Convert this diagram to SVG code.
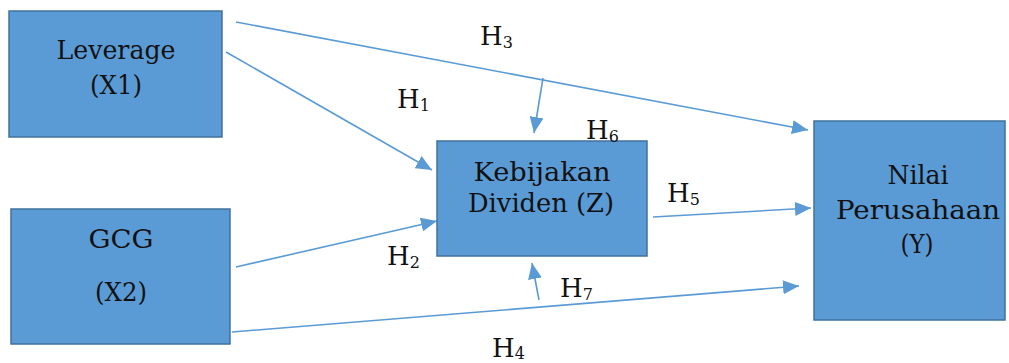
<svg xmlns="http://www.w3.org/2000/svg" width="1009" height="363" viewBox="0 0 1009 363">
  <style>
    .box { fill: #5b9bd5; stroke: #41719c; stroke-width: 1.5; }
    .lbl { font-family: "DejaVu Serif", "Liberation Serif", serif; font-size: 26px; fill: #111; text-anchor: middle; }
    .h { font-family: "DejaVu Serif", "Liberation Serif", serif; font-size: 26px; fill: #111; }
    .sub { font-size: 16px; }
    .edge { stroke: #5b9bd5; stroke-width: 1.6; fill: none; marker-end: url(#arrow); }
  </style>
  <defs>
    <marker id="arrow" markerUnits="userSpaceOnUse" markerWidth="16" markerHeight="14" viewBox="0 0 16 14" refX="16" refY="7" orient="auto">
      <path d="M0,0 L16,7 L0,14 Z" fill="#5b9bd5"/>
    </marker>
  </defs>

  <rect width="1009" height="363" fill="#ffffff"/>

  <g id="connectors">
    <line class="edge" x1="236" y1="22" x2="808" y2="130"/>
    <line class="edge" x1="226" y1="52" x2="432" y2="170"/>
    <line class="edge" x1="236" y1="267" x2="437" y2="221"/>
    <line class="edge" x1="232" y1="332" x2="799" y2="286"/>
    <line class="edge" x1="653" y1="217" x2="811" y2="208"/>
    <line class="edge" x1="543" y1="78" x2="534" y2="133"/>
    <line class="edge" x1="539" y1="300" x2="532" y2="263"/>
  </g>

  <g id="leverage">
    <rect class="box" x="9" y="11" width="213" height="126"/>
    <text class="lbl" x="116" y="59" textLength="119" lengthAdjust="spacingAndGlyphs">Leverage</text>
    <text class="lbl" x="116" y="94" textLength="52" lengthAdjust="spacingAndGlyphs">(X1)</text>
  </g>

  <g id="gcg">
    <rect class="box" x="11" y="209" width="219" height="135"/>
    <text class="lbl" x="121" y="248" textLength="65" lengthAdjust="spacingAndGlyphs">GCG</text>
    <text class="lbl" x="121" y="301" textLength="52" lengthAdjust="spacingAndGlyphs">(X2)</text>
  </g>

  <g id="kebijakan-dividen">
    <rect class="box" x="437" y="141" width="210" height="115"/>
    <text class="lbl" x="542" y="181" textLength="137" lengthAdjust="spacingAndGlyphs">Kebijakan</text>
    <text class="lbl" x="541" y="212" textLength="146" lengthAdjust="spacingAndGlyphs">Dividen (Z)</text>
  </g>

  <g id="nilai-perusahaan">
    <rect class="box" x="814" y="121" width="191" height="199"/>
    <text class="lbl" x="918" y="184" textLength="61" lengthAdjust="spacingAndGlyphs">Nilai</text>
    <text class="lbl" x="918" y="219" textLength="164" lengthAdjust="spacingAndGlyphs">Perusahaan</text>
    <text class="lbl" x="917" y="253" textLength="33" lengthAdjust="spacingAndGlyphs">(Y)</text>
  </g>

  <g id="hypotheses">
    <text class="h" x="480" y="45">H<tspan class="sub" dy="3">3</tspan></text>
    <text class="h" x="397" y="108">H<tspan class="sub" dy="3">1</tspan></text>
    <text class="h" x="586" y="139">H<tspan class="sub" dy="3">6</tspan></text>
    <text class="h" x="667" y="202">H<tspan class="sub" dy="3">5</tspan></text>
    <text class="h" x="387" y="265">H<tspan class="sub" dy="3">2</tspan></text>
    <text class="h" x="560" y="297">H<tspan class="sub" dy="3">7</tspan></text>
    <text class="h" x="492" y="357">H<tspan class="sub" dy="2">4</tspan></text>
  </g>
</svg>
